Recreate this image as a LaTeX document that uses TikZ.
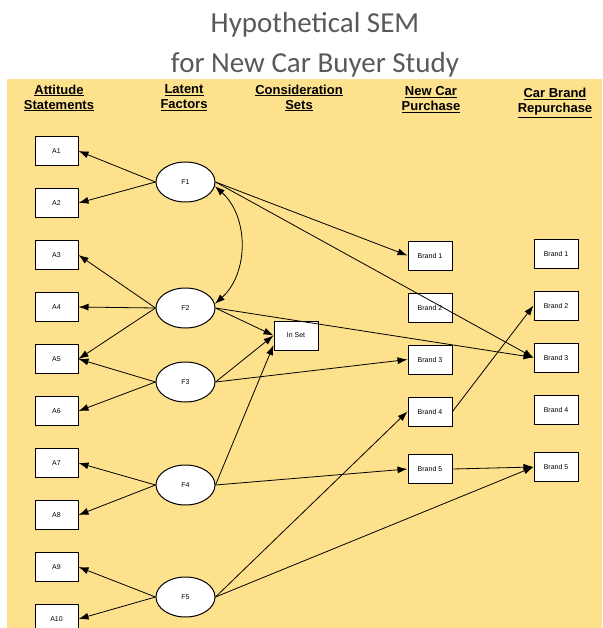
\documentclass[tikz,border=0pt]{standalone}
\usepackage{fontspec}
\setmainfont{Liberation Sans}
\newfontfamily\titlefont{Carlito}
\usetikzlibrary{shapes,arrows.meta,positioning}
\definecolor{semyellow}{RGB}{254,225,140}
\definecolor{titlegray}{RGB}{89,89,89}

\begin{document}
\begin{tikzpicture}[
          x=1pt, y=-1pt,
          ->, >={Latex[length=10pt,width=7pt]},
          line width=0.8pt,
          item/.style={rectangle, draw, fill=white, line width=1pt, minimum width=43pt, minimum height=29pt, inner sep=0pt, font=\fontsize{7}{8}\selectfont},
          brand/.style={item, minimum width=44pt},
          factor/.style={ellipse, draw, fill=white, line width=1pt, minimum width=59pt, minimum height=40pt, inner sep=0pt, font=\fontsize{7}{8}\selectfont},
          heading/.style={align=center, font=\bfseries\fontsize{13}{15}\selectfont},
          node distance=22pt
        ]

        \useasboundingbox (0,0) rectangle (602,628);
        \clip (0,0) rectangle (602,628);

        % Title and background
        \node[anchor=base, text=titlegray, font=\titlefont\fontsize{29}{35}\selectfont] (T1) at (315,33) {Hypothetical SEM};
        \node[anchor=base, text=titlegray, font=\titlefont\fontsize{29}{35}\selectfont] (T2) at (315,73) {for New Car Buyer Study};
        \fill[semyellow] (7,79) rectangle (602,628);

        % Column headings
        \node[heading] (H1) at (59,98) {\underline{Attitude}\\\underline{Statements}};
        \node[heading] (H2) at (184,98) {\underline{Latent}\\\underline{Factors}};
        \node[heading] (H3) at (299,98) {\underline{Consideration}\\\underline{Sets}};
        \node[heading] (H4) at (431,100) {\underline{New Car}\\\underline{Purchase}};
        \node[heading] (H5) at (555,103) {\underline{Car Brand}\\\underline{Repurchase}};

        % Attitude statements
        \node[item] (A1) at (56.5,151) {A1};
        \node[item, below=of A1] (A2) {A2};
        \node[item, below=of A2] (A3) {A3};
        \node[item, below=of A3] (A4) {A4};
        \node[item, below=of A4] (A5) {A5};
        \node[item, below=of A5] (A6) {A6};
        \node[item, below=of A6] (A7) {A7};
        \node[item, below=of A7] (A8) {A8};
        \node[item, below=of A8] (A9) {A9};
        \node[item, below=of A9] (A10) {A10};

        % Latent factors
        \node[factor] (F1) at (185.5,182) {F1};
        \node[factor] (F2) at (185.5,308) {F2};
        \node[factor] (F3) at (185.5,382) {F3};
        \node[factor] (F4) at (185.5,485) {F4};
        \node[factor] (F5) at (185.5,597) {F5};

        % Consideration set
        \node[brand] (S) at (296,335.5) {In Set};

        % New car purchase
        \node[brand] (NB1) at (430,255.5) {Brand 1};
        \node[brand, below=of NB1] (NB2) {Brand 2};
        \node[brand, below=of NB2] (NB3) {Brand 3};
        \node[brand, below=of NB3] (NB4) {Brand 4};
        \node[brand, below=27.5pt of NB4] (NB5) {Brand 5};

        % Car brand repurchase
        \node[brand] (RB1) at (556,253.5) {Brand 1};
        \node[brand, below=of RB1] (RB2) {Brand 2};
        \node[brand, below=of RB2] (RB3) {Brand 3};
        \node[brand, below=of RB3] (RB4) {Brand 4};
        \node[brand, below=27.5pt of RB4] (RB5) {Brand 5};

        % Edges from F1
        \draw (F1.west) -- (A1.east);
        \draw (F1.west) -- (A2.east);
        \draw (F1.east) -- (NB1.west);
        \draw (F1.east) -- (RB3.west);
        \draw[<->] (F1.-8) to[bend left=48] (F2.8); % correlation

        % Edges from F2
        \draw (F2.west) -- (A3.east);
        \draw (F2.west) -- (A4.east);
        \draw (F2.west) -- (A5.east);
        \draw (F2.east) -- (S.west);
        \draw (F2.east) -- (RB3.west);

        % Edges from F3
        \draw (F3.west) -- (A5.east);
        \draw (F3.west) -- (A6.east);
        \draw (F3.east) -- (S.west);
        \draw (F3.east) -- (NB3.west);

        % Edges from F4
        \draw (F4.west) -- (A7.east);
        \draw (F4.west) -- (A8.east);
        \draw (F4.east) -- (S.203);
        \draw (F4.east) -- (NB5.west);

        % Edges from F5
        \draw (F5.west) -- (A9.east);
        \draw (F5.west) -- (A10.east);
        \draw (F5.east) -- (NB4.west);
        \draw (F5.east) -- (RB5.west);

        % Purchase to repurchase
        \draw (NB4.east) -- (RB2.west);
        \draw (NB5.east) -- (RB5.west);

      \end{tikzpicture}
\end{document}
